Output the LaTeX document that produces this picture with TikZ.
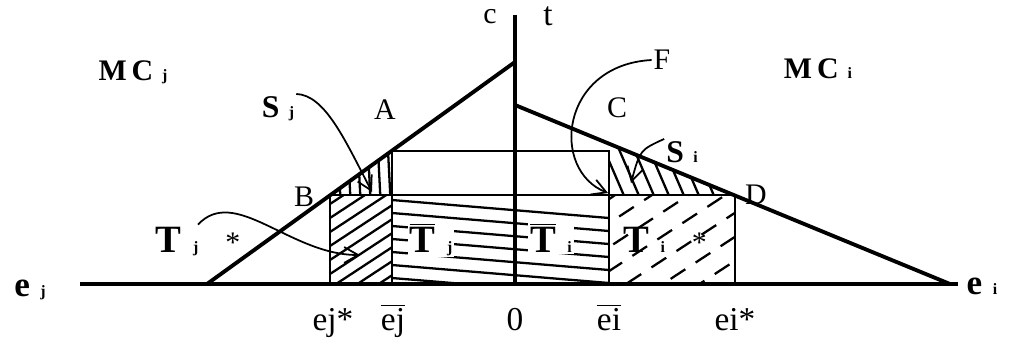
\documentclass[tikz,border=0pt]{standalone}
\usepackage{fontspec}
\setmainfont{Liberation Serif}
\usetikzlibrary{arrows.meta}
\usetikzlibrary{positioning}

\newcommand{\idx}[1]{\hspace{0.3em}{\fontsize{9}{10}\selectfont #1}}
\newcommand{\optmark}{{\mdseries\fontsize{17}{19}\selectfont *}}

\begin{document}
\begin{tikzpicture}[
    x=0.02cm, y=-0.02cm,
    every node/.style={inner sep=1pt},
    mc label/.style={font=\fontsize{17}{19}\selectfont\bfseries},
    s label/.style={font=\fontsize{18}{20}\selectfont\bfseries},
    t label/.style={font=\fontsize{22}{24}\selectfont\bfseries},
    e label/.style={font=\fontsize{20}{22}\selectfont\bfseries},
    pt label/.style={font=\fontsize{17}{19}\selectfont},
    ax label/.style={font=\fontsize{19}{21}\selectfont},
    axis/.style={line width=2.2pt},
    box/.style={line width=0.7pt},
    hatch/.style={line width=1.3pt},
    pointer/.style={line width=1pt, -{Straight Barb[length=8pt,width=9pt]}},
  ]

  \useasboundingbox (0,0) rectangle (1011,349);

  % axes and the two curves
  \coordinate (ejend) at (80,284);
  \coordinate (eiend) at (958,284);
  \coordinate (O)     at (515,284);
  \coordinate (ctop)  at (515,15);
  \coordinate (jfoot) at (207,284);
  \coordinate (jtop)  at (515,62);
  \coordinate (itop)  at (515,105);
  \coordinate (ifoot) at (950,284);

  % corners of the boxes
  \coordinate (B)    at (330,195);
  \coordinate (A)    at (392,151);
  \coordinate (midl) at (392,195);
  \coordinate (midr) at (609,195);
  \coordinate (boxr) at (609,151);
  \coordinate (D)    at (735,195);
  \coordinate (ejs)  at (330,284);
  \coordinate (ejb)  at (392,284);
  \coordinate (eib)  at (609,284);
  \coordinate (eis)  at (735,284);

  % hatching
  \begin{scope}
    \clip (B) rectangle (ejb);
    \foreach \k in {0,...,10}
      \draw[hatch] (330,190+14*\k) -- ++(70,-46);
  \end{scope}
  \begin{scope}
    \clip (midr) rectangle (eis);
    \foreach \k in {0,...,7}
      \draw[hatch, dash pattern=on 10pt off 7pt, dash phase=4*\k pt] (600,205+24*\k) -- ++(150,-98);
  \end{scope}
  \begin{scope}
    \clip (midl) rectangle (eib);
    \foreach \k in {0,...,6}
      \draw[hatch] (392,200+13*\k) -- (609,218+13*\k);
  \end{scope}
  \begin{scope}
    \clip (B) -- (A) -- (midl) -- cycle;
    \foreach \x in {338,348,...,388}
      \draw[hatch] (\x,150) -- ++(3,60);
  \end{scope}
  \begin{scope}
    \clip (609,143) -- (D) -- (midr) -- cycle;
    \foreach \x in {600,615,...,735}
      \draw[hatch] (\x,140) -- ++(25,58);
  \end{scope}

  % boxes
  \draw[box] (A) rectangle (eib);
  \draw[box] (midl) -- (midr);
  \draw[box] (B) -- (D);
  \draw[box] (B) -- (ejs);
  \draw[box] (D) -- (eis);

  % axes and lines
  \draw[axis] (ejend) -- (eiend);
  \draw[axis] (O) -- (ctop);
  \draw[axis] (jfoot) -- (jtop);
  \draw[axis] (itop) -- (ifoot);

  % labels
  \node[pt label] (cl) at (490,17) {c};
  \node[ax label] (tl) at (548,16) {t};
  \node[mc label, anchor=base] (MCj) at (133,80) {M\,C\idx{j}};
  \node[mc label, anchor=base] (MCi) at (818,78) {M\,C\idx{i}};
  \node[s label, anchor=base] (Sj) at (278,117) {S\idx{j}};
  \node[pt label] (Al) at (385,110) {A};
  \node[pt label] (Bl) at (304,197) {B};
  \node[pt label] (Cl) at (617,108) {C};
  \node[pt label] (Fl) at (662,60) {F};
  \node[s label, anchor=base] (Si) at (682,162) {S\idx{i}};
  \node[pt label] (Dl) at (756,195) {D};
  \node[t label, anchor=base] (Tjs) at (198,252) {T\idx{j}\hspace{0.7em}\optmark};
  \node[t label, anchor=base, fill=white] (Tjb) at (431,252) {$\overline{\mbox{T}}$\idx{j}};
  \node[t label, anchor=base, fill=white] (Tib) at (551,252) {$\overline{\mbox{T}}$\idx{i}};
  \node[t label, anchor=base] (Tis) at (665,252) {T\idx{i}\hspace{0.7em}\optmark};
  \node[e label, anchor=base] (ejl) at (30,296) {e\idx{j}};
  \node[e label, anchor=base] (eil) at (982,294) {e\idx{i}};
  \node[ax label, anchor=base] (ejsl) at (333,330) {ej*};
  \node[ax label, anchor=base] (ejbl) at (393,330) {$\overline{\mbox{ej}}$};
  \node[ax label, anchor=base] (Ol)   at (515,330) {0};
  \node[ax label, anchor=base] (eibl) at (609,330) {$\overline{\mbox{ei}}$};
  \node[ax label, anchor=base] (eisl) at (735,330) {ei*};

  % pointers
  \coordinate (sjtip) at (372,192);
  \coordinate (tjtip) at (360,255);
  \coordinate (ftip)  at (608,193);
  \coordinate (sitip) at (631,183);
  \draw[pointer] (Sj.north east) .. controls (325,95) and (345,140) .. (sjtip);
  \draw[pointer] (Tjs.north) .. controls (235,185) and (290,255) .. (tjtip);
  \draw[pointer] (Fl.west) .. controls (560,65) and (550,170) .. (ftip);
  \draw[pointer] (Si.north west) .. controls (640,150) .. (sitip);

\end{tikzpicture}
\end{document}
